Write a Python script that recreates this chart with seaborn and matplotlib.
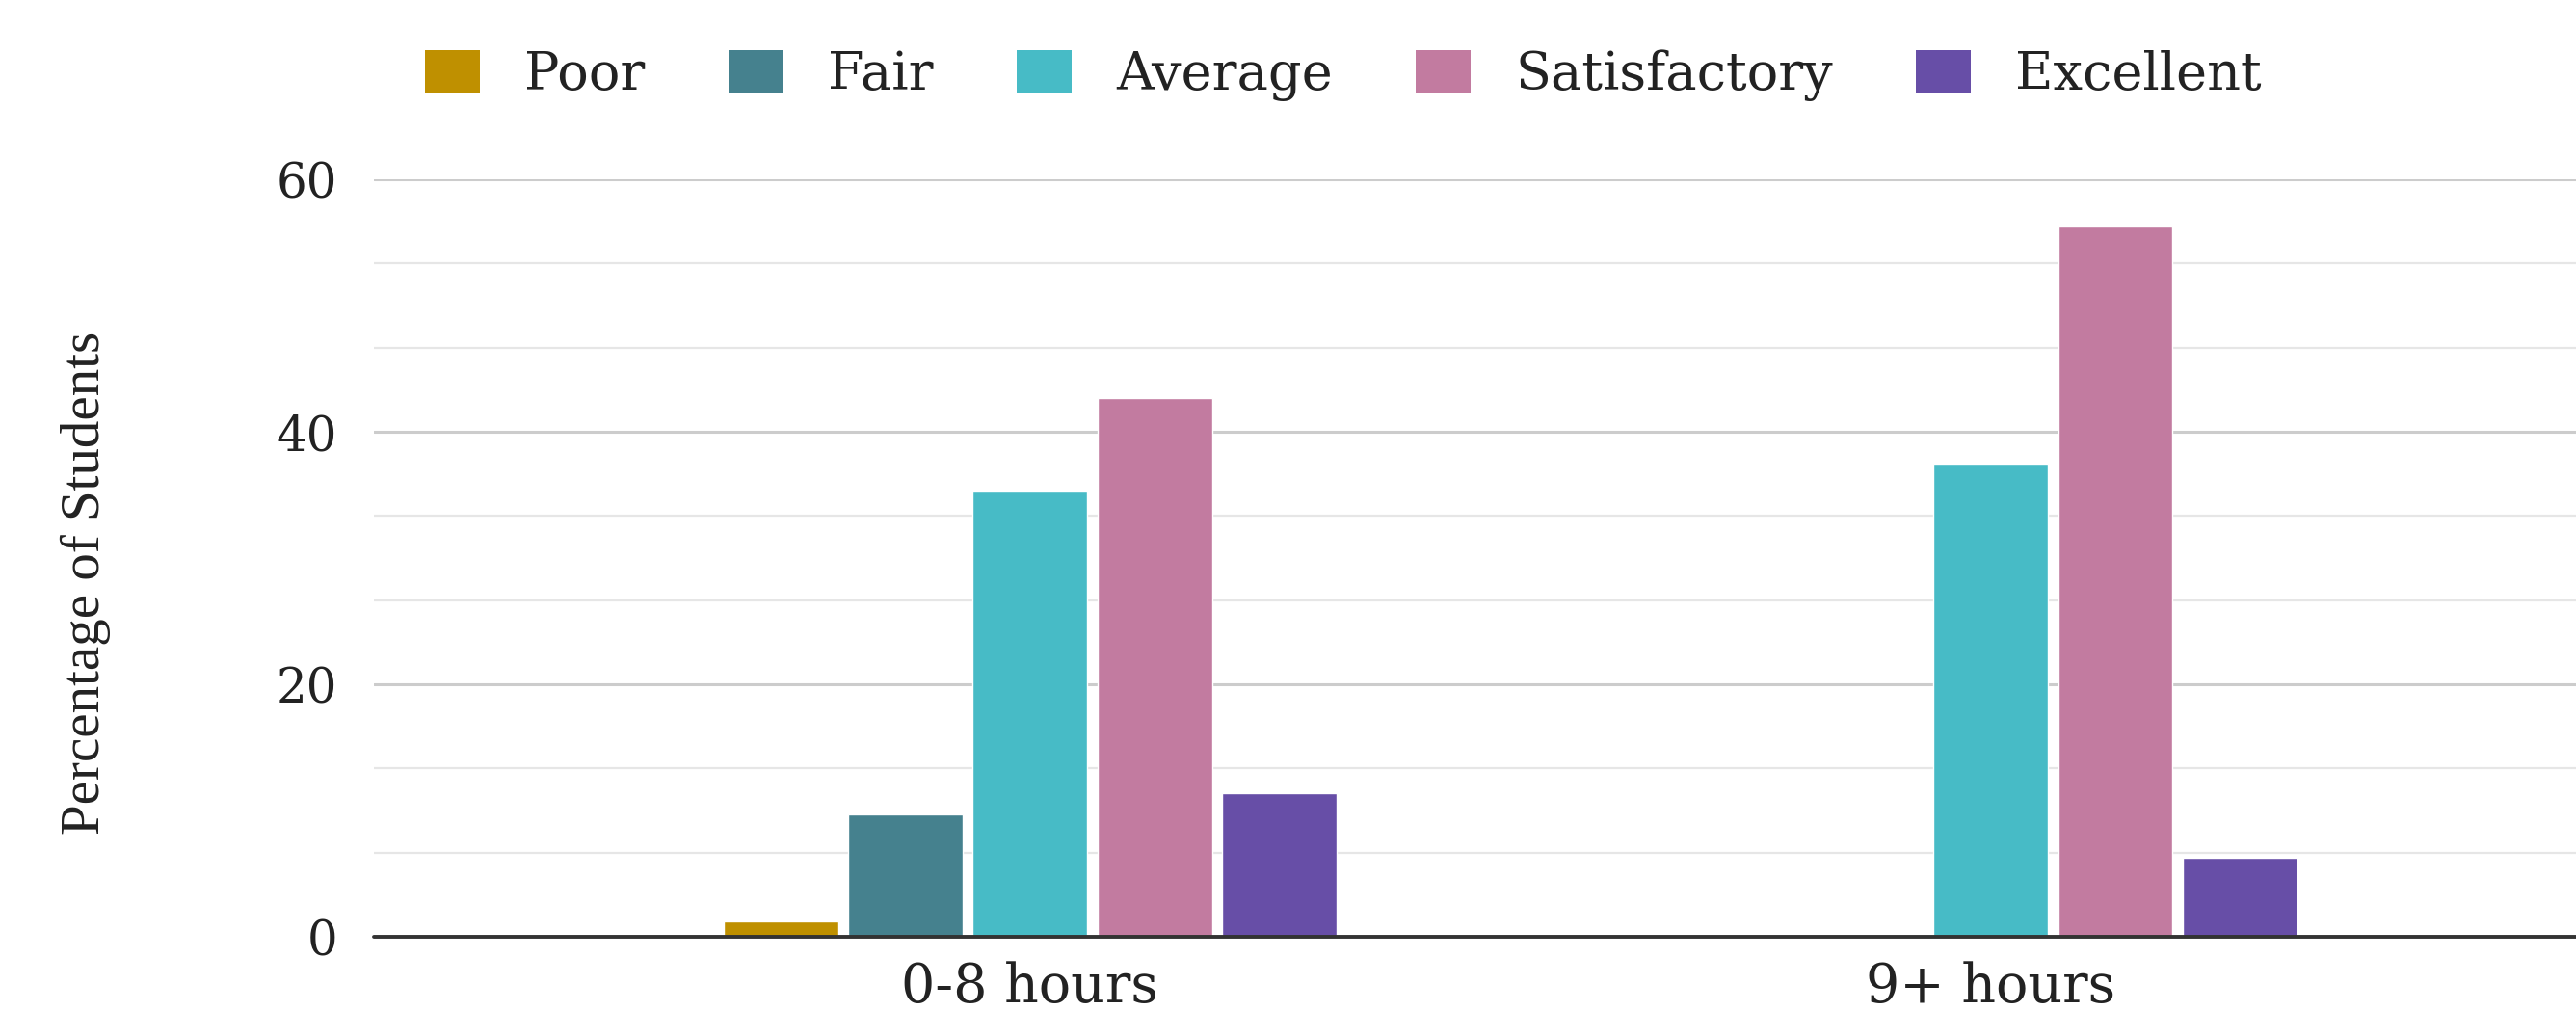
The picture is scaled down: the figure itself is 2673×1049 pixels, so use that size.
import matplotlib
matplotlib.use("Agg")
import matplotlib.pyplot as plt
from matplotlib.ticker import MultipleLocator
import seaborn as sns
import pandas as pd

# Study hours vs. self-rated performance (percentage of students)
hour_groups = ["0-8 hours", "9+ hours"]
ratings = ["Poor", "Fair", "Average", "Satisfactory", "Excellent"]
pct_0_8 = [1.2, 9.7, 35.3, 42.7, 11.4]
pct_9_plus = [0.0, 0.0, 37.5, 56.25, 6.25]
rating_colors = ["#bf9000", "#45818e", "#47bbc6", "#c27ba0", "#674ea7"]
y_ticks = [0, 20, 40, 60]

df = pd.DataFrame({
    "Hours": [h for h in hour_groups for _ in ratings],
    "Rating": ratings * len(hour_groups),
    "Percent": pct_0_8 + pct_9_plus,
})

sns.set_theme(style="white")
plt.rcParams["font.family"] = ["DejaVu Serif"]

W, H, DPI = 2673, 1049, 100
fig = plt.figure(figsize=(W / DPI, H / DPI), dpi=DPI)
ax = fig.add_axes([388 / W, 1 - 972 / H, 1 - 388 / W, (972 - 186) / H])

sns.barplot(
    data=df, x="Hours", y="Percent", hue="Rating",
    order=hour_groups, hue_order=ratings,
    palette=rating_colors, width=0.648, gap=0.08,
    saturation=1, legend=False, ax=ax, zorder=3,
)

ax.set_xlim(-0.683, 1.609)
ax.set_ylim(0, 60)
ax.set_yticks(y_ticks)
ax.set_yticklabels([str(v) for v in y_ticks])
ax.yaxis.set_minor_locator(MultipleLocator(20 / 3))
ax.grid(axis="y", which="major", color="#cccccc", linewidth=2.2, zorder=0)
ax.grid(axis="y", which="minor", color="#e6e6e6", linewidth=1.6, zorder=0)
ax.grid(axis="x", visible=False)
ax.axhline(0, color="#333333", linewidth=2.8, zorder=5, clip_on=False)
for s in ax.spines.values():
    s.set_visible(False)
ax.tick_params(axis="y", which="both", length=0, pad=27, labelsize=36, labelcolor="#222222")
ax.tick_params(axis="x", length=0, pad=18, labelsize=40, labelcolor="#222222")
ax.set_xlabel("")
ax.set_ylabel("")

fig.text(89 / W, 1 - 605 / H, "Percentage of Students", rotation=90,
         ha="center", va="center", fontsize=41, family="Liberation Serif",
         color="#222222")

# legend along the top
handles = [plt.Rectangle((0, 0), 1, 1, facecolor=c, edgecolor="none") for c in rating_colors]
fig.legend(handles, ratings, loc="center", bbox_to_anchor=(1394 / W, 1 - 78 / H),
           ncol=5, frameon=False, fontsize=39, handlelength=1.05, handleheight=0.85,
           handletextpad=0.85, columnspacing=1.6, labelcolor="#222222")

fig.savefig("out.png", dpi=DPI, facecolor="white")
